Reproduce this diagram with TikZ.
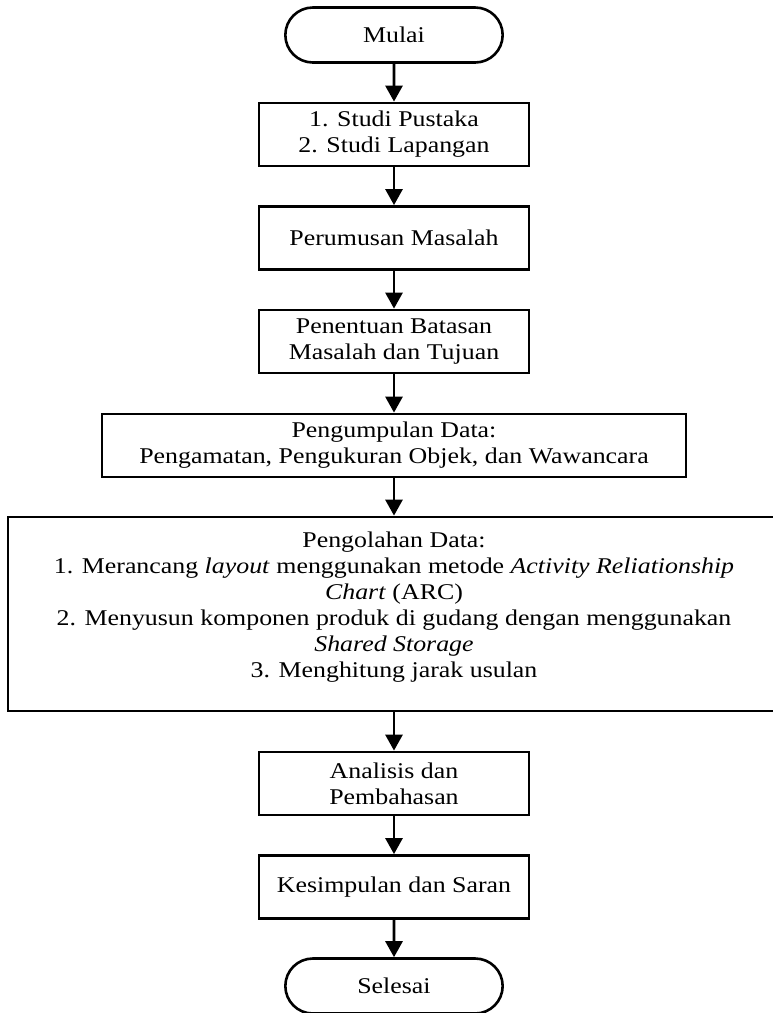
\documentclass[tikz,border=0pt]{standalone}
\usepackage{fontspec}
\setmainfont[FakeStretch=1.15]{Liberation Serif}
\usetikzlibrary{shapes.misc,arrows.meta}
\tikzset{
  proc/.style={draw,line width=2.8pt,rectangle,align=center,minimum height=63pt,inner sep=3pt},
  term/.style={draw,line width=2.6pt,rounded rectangle,minimum width=224pt,minimum height=55pt},
  flow/.style={line width=2.8pt,-{Triangle[width=17pt,length=16pt]}}
}
\begin{document}
\begin{tikzpicture}[x=1pt,y=-1pt,font=\fontsize{22.5}{26}\selectfont]
      \useasboundingbox (0,0) rectangle (772,1013);
      \node[term] (start) at (394,35) {Mulai};
      \node[proc,minimum width=270pt] (studi) at (394,134.5) {1. Studi Pustaka\\2. Studi Lapangan};
      \node[proc,minimum width=270pt] (rumus) at (394,238) {Perumusan Masalah};
      \node[proc,minimum width=270pt] (batas) at (394,341.5) {Penentuan Batasan\\Masalah dan Tujuan};
      \node[proc,minimum width=584pt] (kumpul) at (394,445.5) {Pengumpulan Data:\\Pengamatan, Pengukuran Objek, dan Wawancara};
      \node[proc,minimum width=772pt,minimum height=194pt] (olah) at (394,614) {Pengolahan Data:\\
        1. Merancang \textit{layout} menggunakan metode \textit{Activity Reliationship}\\
        \textit{Chart} (ARC)\\
        2. Menyusun komponen produk di gudang dengan menggunakan\\
        \textit{Shared Storage}\\
        3. Menghitung jarak usulan\\[-8pt] \mbox{}};
      \node[proc,minimum width=270pt] (analisis) at (394,783.5) {Analisis dan\\Pembahasan};
      \node[proc,minimum width=270pt] (simpul) at (394,887) {Kesimpulan dan Saran};
      \node[term] (stop) at (394,986) {Selesai};
      \begin{scope}[flow]
        \draw (start) -- (studi);
        \draw (studi) -- (rumus);
        \draw (rumus) -- (batas);
        \draw (batas) -- (kumpul);
        \draw (kumpul) -- (olah);
        \draw (olah) -- (analisis);
        \draw (analisis) -- (simpul);
        \draw (simpul) -- (stop);
      \end{scope}
    \end{tikzpicture}
\end{document}
